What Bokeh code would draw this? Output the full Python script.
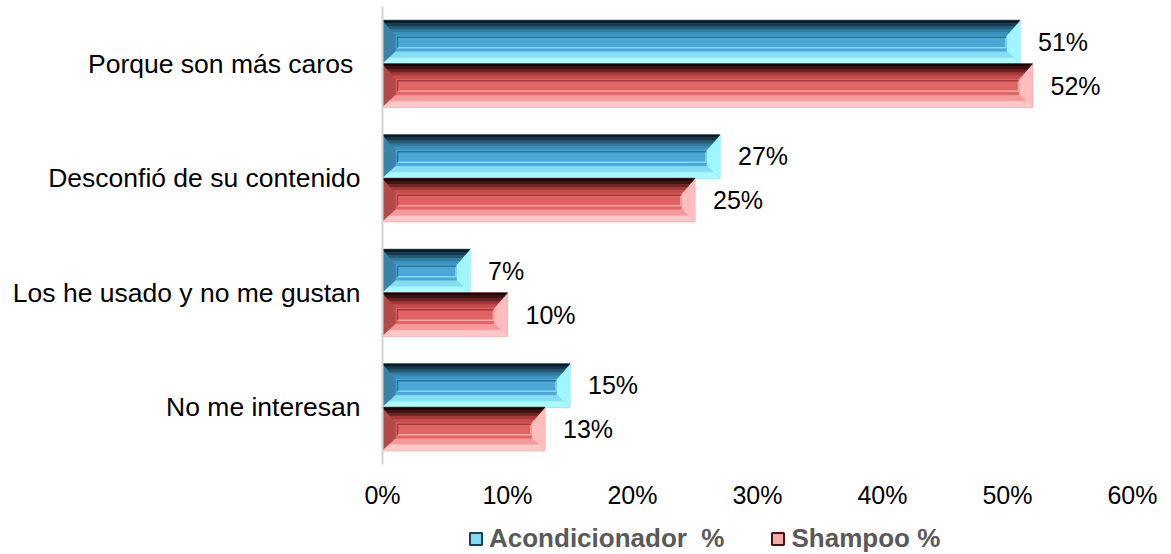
from bokeh.plotting import figure
from bokeh.layouts import column
from bokeh.models import ColumnDataSource, FixedTicker, Legend, LegendItem, Range1d
from bokeh.core.properties import value
from bokeh.embed import file_html
from bokeh.resources import INLINE

# ---------------- data ----------------
categories = ["Porque son más caros ", "Desconfió de su contenido",
              "Los he usado y no me gustan", "No me interesan"]
acondicionador = [51, 27, 7, 15]
shampoo = [52, 25, 10, 13]
series_names = ["Acondicionador  %", "Shampoo %"]
x_ticks = [0, 10, 20, 30, 40, 50, 60]
x_tick_labels = ["0%", "10%", "20%", "30%", "40%", "50%", "60%"]

FONT = "Liberation Sans"
W, H = 1171, 518          # main chart; legend strip below it
LEG_H = 36
BL, BR, BT, BB = 382, 39, 6, 54
FW, FH = W - BL - BR, H - BT - BB
XMAX = 60
NCAT = len(categories)
XU = XMAX / FW          # data units per pixel (x)
YU = NCAT / FH          # data units per pixel (y)
BAR_H = 0.38

BLUE = dict(top=["#0b1b24", "#173a4c", "#245a74", "#317c9f", "#3d93bf"],
            mid="#4aa7d6", left="#3b82aa", bottom=["#86dcf0", "#a9fbff"],
            right="#9ff6ff", dark="#2f7399", light="#8ad9f0",
            leg_fill="#7fdcf2", leg_line="#1c4258")
RED = dict(top=["#1c0606", "#3f1111", "#6e2424", "#a53a3a", "#c94c4c"],
           mid="#e06464", left="#b34a4a", bottom=["#f39a9a", "#ffc8c8"],
           right="#ffbdbd", dark="#a33d3d", light="#f7aaaa",
           leg_fill="#f6aaaa", leg_line="#4a1414")

p = figure(width=W, height=H, output_backend="svg", toolbar_location=None,
           x_range=Range1d(0, XMAX), y_range=Range1d(-0.5, NCAT - 0.5),
           min_border_left=BL, min_border_right=BR, min_border_top=BT,
           min_border_bottom=BB)
p.outline_line_color = None
p.grid.visible = False
p.background_fill_color = "white"


def bevel_source(vals, offset, pal):
    xs, ys, cs = [], [], []
    lx_d, ly_d, lx_l, ly_l = [], [], [], []
    for i, v in enumerate(vals):
        c = (NCAT - 1 - i)
        yb = c + offset
        yt = yb + BAR_H
        x0, x1 = 0.0, float(v)
        d = 13 * XU
        dt = 15 * YU
        db = 12 * YU
        xs.append([x0, x1, x1, x0]); ys.append([yb, yb, yt, yt]); cs.append(pal["mid"])
        xs.append([x0, x0 + d, x0 + d, x0]); ys.append([yt, yt - dt, yb + db, yb]); cs.append(pal["left"])
        xs.append([x1, x1 - d, x1 - d, x1]); ys.append([yt, yt - dt, yb + db, yb]); cs.append(pal["right"])
        nb = len(pal["bottom"])
        for k in range(nb):
            t0 = 1 - k / nb
            t1 = 1 - (k + 1) / nb
            xs.append([x0 + d * t0, x1 - d * t0, x1 - d * t1, x0 + d * t1])
            ys.append([yb + db * t0, yb + db * t0, yb + db * t1, yb + db * t1])
            cs.append(pal["bottom"][k])
        nt = len(pal["top"])
        for k in range(nt):
            t0 = k / nt
            t1 = (k + 1) / nt
            xs.append([x0 + d * t0, x1 - d * t0, x1 - d * t1, x0 + d * t1])
            ys.append([yt - dt * t0, yt - dt * t0, yt - dt * t1, yt - dt * t1])
            cs.append(pal["top"][k])
        xl, xr = x0 + 15 * XU, x1 - 14 * XU
        yit, yib = yt - 17 * YU, yb + 16 * YU
        lx_d.append([xl, xl, xr]); ly_d.append([yib, yit, yit])
        lx_l.append([xr, xr, xl]); ly_l.append([yit, yib, yib])
    return (ColumnDataSource(dict(xs=xs, ys=ys, c=cs)),
            ColumnDataSource(dict(xs=lx_d, ys=ly_d)),
            ColumnDataSource(dict(xs=lx_l, ys=ly_l)))


for vals, off, pal in [(acondicionador, 0.0, BLUE), (shampoo, -BAR_H, RED)]:
    src, dsrc, lsrc = bevel_source(vals, off, pal)
    p.patches("xs", "ys", source=src, fill_color="c", line_color="c", line_width=0.5)
    p.multi_line("xs", "ys", source=lsrc, line_color=pal["light"], line_width=1.5)
    p.multi_line("xs", "ys", source=dsrc, line_color=pal["dark"], line_width=1.5)
    centers = [NCAT - 1 - i + off + BAR_H / 2 for i in range(NCAT)]
    p.text(x=vals, y=centers, text=[f"{v}%" for v in vals], x_offset=18,
           text_baseline="middle", text_align="left", text_font_size="25px",
           text_font=value(FONT), text_color="#000000")

# x axis
p.xaxis.ticker = FixedTicker(ticks=x_ticks)
p.xaxis.major_label_overrides = {t: l for t, l in zip(x_ticks, x_tick_labels)}
p.xaxis.axis_line_color = None
p.xaxis.major_tick_line_color = None
p.xaxis.minor_tick_line_color = None
p.xaxis.major_tick_out = 0
p.xaxis.major_label_standoff = 16
p.xaxis.major_label_text_font_size = "25px"
p.xaxis.major_label_text_font = FONT
p.xaxis.major_label_text_color = "#000000"

# y axis
y_ticks = [NCAT - 1 - i for i in range(NCAT)]
p.yaxis.ticker = FixedTicker(ticks=y_ticks)
p.yaxis.major_label_overrides = {t: c for t, c in zip(y_ticks, categories)}
p.yaxis.axis_line_color = "#d4d4d4"
p.yaxis.axis_line_width = 2
p.yaxis.major_tick_line_color = None
p.yaxis.minor_tick_line_color = None
p.yaxis.major_tick_out = 0
p.yaxis.major_label_standoff = 22
p.yaxis.major_label_text_font_size = "26.5px"
p.yaxis.major_label_text_font = FONT
p.yaxis.major_label_text_color = "#000000"

# ---------------- legend strip ----------------
lg = figure(width=W, height=LEG_H, output_backend="svg", toolbar_location=None,
            x_range=Range1d(0, 1), y_range=Range1d(0, 1),
            x_axis_type=None, y_axis_type=None,
            min_border_left=0, min_border_right=0, min_border_top=0, min_border_bottom=0)
lg.outline_line_color = None
lg.grid.visible = False

nan = float("nan")
legend_renderers = []
for pal in (BLUE, RED):
    proxy = ColumnDataSource(dict(l=[nan], r=[nan], b=[nan], t=[nan]))
    legend_renderers.append(lg.quad(left="l", right="r", bottom="b", top="t", source=proxy,
                                    fill_color=pal["leg_fill"], line_color=pal["leg_line"],
                                    line_width=2))

legend = Legend(items=[LegendItem(label=series_names[0], renderers=[legend_renderers[0]]),
                       LegendItem(label=series_names[1], renderers=[legend_renderers[1]])],
                orientation="horizontal", location=(86, 0),
                glyph_width=15, glyph_height=15, label_standoff=6, spacing=46,
                padding=0, margin=0, border_line_color=None, background_fill_alpha=0,
                label_text_font_size="26px", label_text_font_style="bold",
                label_text_font=FONT, label_text_color="#595959")
lg.add_layout(legend)

layout = column(p, lg, spacing=0)
open("out.html", "w").write(file_html(layout, INLINE))
